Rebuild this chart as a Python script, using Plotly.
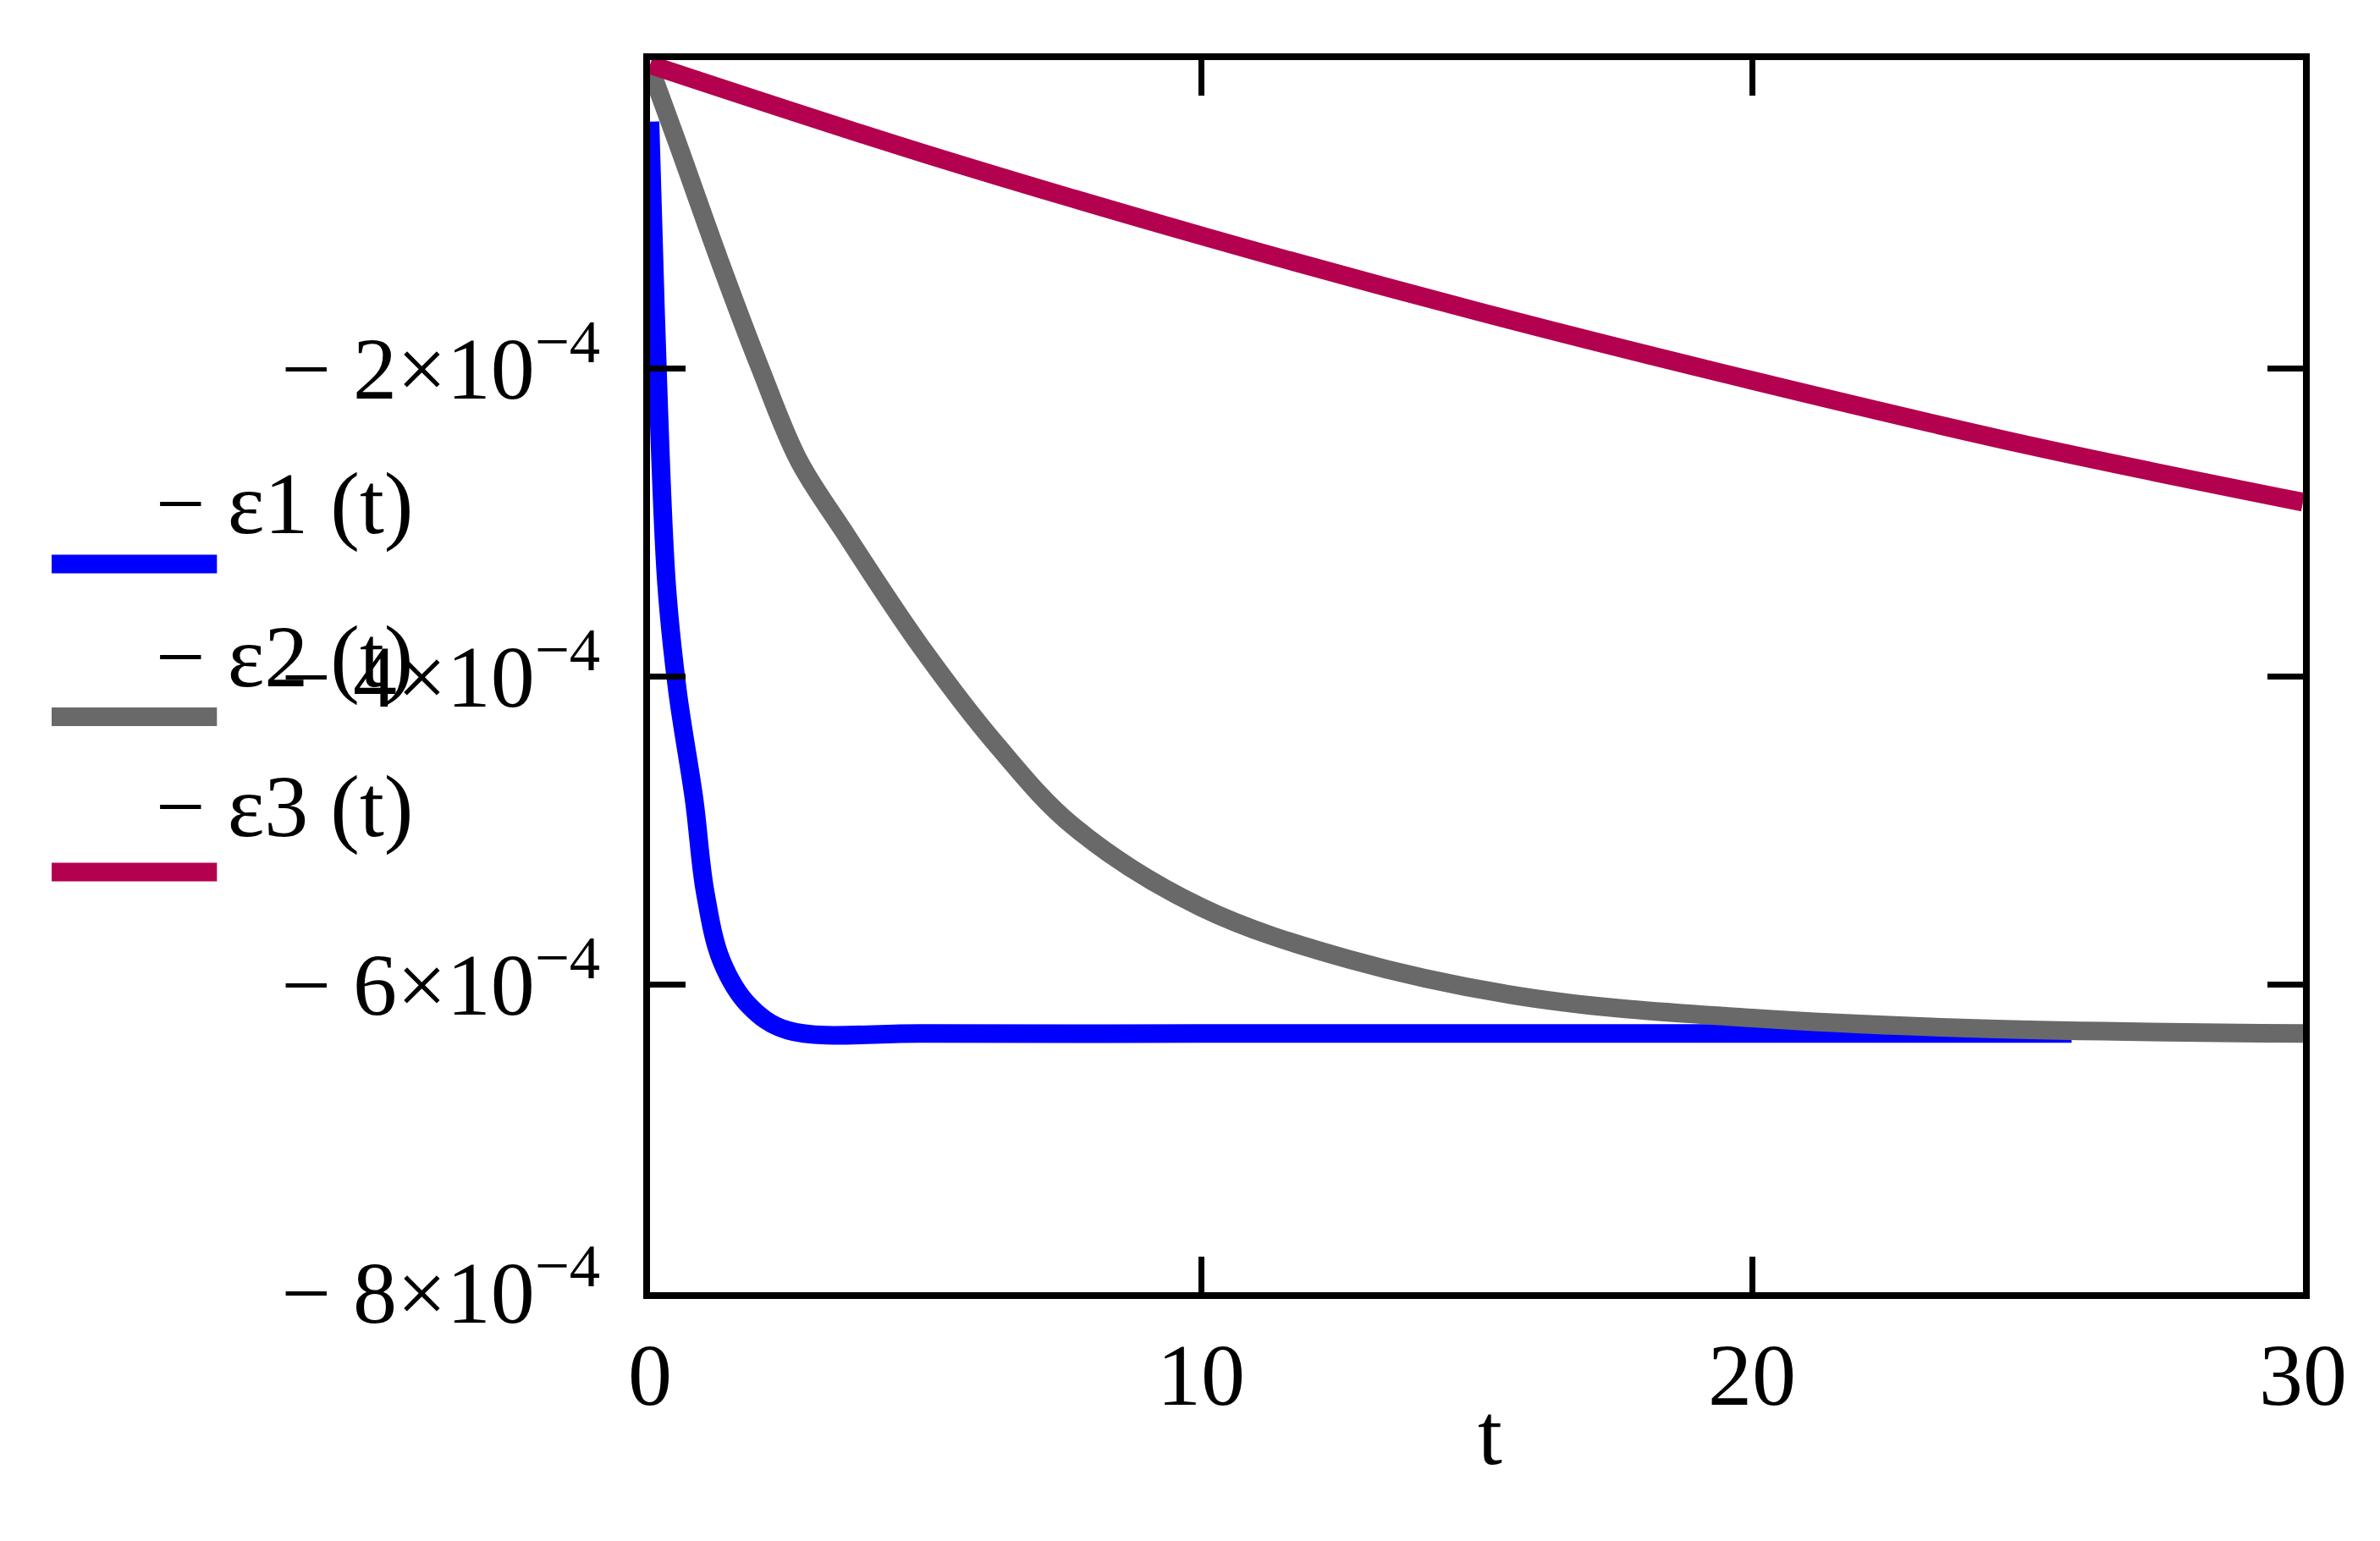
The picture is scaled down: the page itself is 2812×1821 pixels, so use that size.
import plotly.graph_objects as go

# values
t1 = [0, 0.1, 0.3, 0.5, 0.8, 1.0, 1.3, 1.8, 2.5, 5, 10, 15, 20, 25.8]
e1 = [-0.40e-4, -1.63e-4, -3.4e-4, -4.1e-4, -4.8e-4, -5.4e-4, -5.85e-4, -6.14e-4,
      -6.3e-4, -6.32e-4, -6.32e-4, -6.32e-4, -6.32e-4, -6.32e-4]

t2 = [0, 0.5, 1.3, 2.0, 2.7, 3.5, 4.9, 6.3, 7.7, 10, 12.7, 16, 20, 24.3, 30]
e2 = [-0.05e-4, -0.54e-4, -1.34e-4, -2.0e-4, -2.6e-4, -3.05e-4, -3.8e-4, -4.45e-4, -4.98e-4,
      -5.5e-4, -5.84e-4, -6.09e-4, -6.22e-4, -6.29e-4, -6.32e-4]

t3 = [0, 5, 10, 15, 20, 25, 30]
e3 = [-0.03e-4, -0.61e-4, -1.14e-4, -1.63e-4, -2.08e-4, -2.5e-4, -2.87e-4]

y_ticks = [-2e-4, -4e-4, -6e-4, -8e-4]
y_labels = ["\u2212 2\u00d710<sup>\u22124</sup>", "\u2212 4\u00d710<sup>\u22124</sup>",
            "\u2212 6\u00d710<sup>\u22124</sup>", "\u2212 8\u00d710<sup>\u22124</sup>"]
x_ticks = [0, 10, 20, 30]

names = ["\u2212 \u03b51 (t)", "\u2212 \u03b52 (t)", "\u2212 \u03b53 (t)"]
colors = ["#0000ff", "#696969", "#b3004f"]

FONT = "Liberation Serif"
FS = 104
LW = 22

fig = go.Figure()
for t, e, c in [(t1, e1, colors[0]), (t2, e2, colors[1]), (t3, e3, colors[2])]:
    fig.add_trace(go.Scatter(x=t, y=e, mode="lines", line=dict(color=c, width=LW, shape="spline", smoothing=1.0),
                             showlegend=False))

axis_common = dict(showgrid=False, zeroline=False, showline=True, linecolor="black", linewidth=8,
                   mirror="ticks", ticks="inside", ticklen=42, tickwidth=7, tickcolor="black",
                   tickfont=dict(family=FONT, size=FS, color="black"))

fig.update_xaxes(range=[0, 30], tickvals=x_ticks, **axis_common)
fig.update_yaxes(range=[-8e-4, 0], tickvals=y_ticks, ticktext=y_labels, ticklabelstandoff=30, **axis_common)

shapes = []
annotations = []
leg_y_line = [0.591, 0.467, 0.341]
leg_y_text = [0.640, 0.516, 0.394]
for n, c, yl, yt in zip(names, colors, leg_y_line, leg_y_text):
    shapes.append(dict(type="line", xref="paper", yref="paper", x0=-0.362, x1=-0.262, y0=yl, y1=yl,
                       line=dict(color=c, width=LW)))
    annotations.append(dict(text=n, xref="paper", yref="paper", x=-0.30, y=yt, showarrow=False,
                            font=dict(family=FONT, size=FS, color="black")))
annotations.append(dict(text="t", xref="paper", yref="paper", x=0.508, y=-0.156, showarrow=False,
                        font=dict(family=FONT, size=FS, color="black")))

fig.update_layout(width=2812, height=1821, plot_bgcolor="white", paper_bgcolor="white",
                  margin=dict(l=760, r=99, t=63, b=302), shapes=shapes, annotations=annotations)

fig.write_html("out.html")
